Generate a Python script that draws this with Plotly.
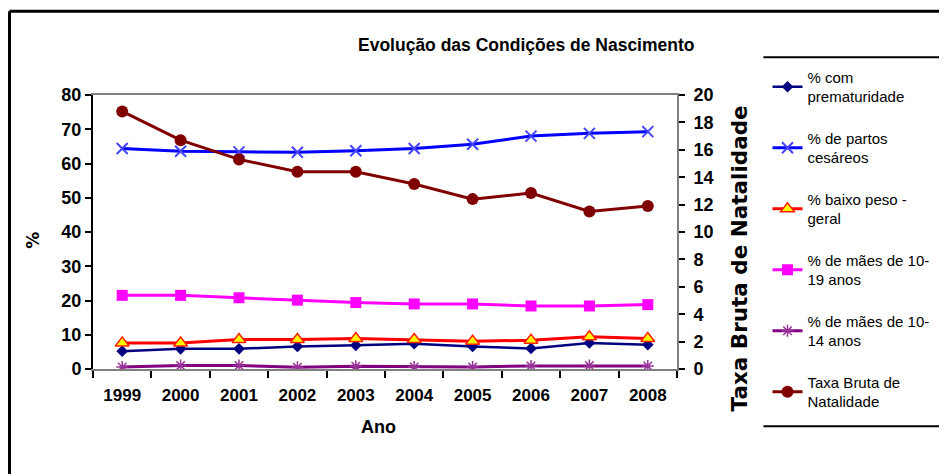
import plotly.graph_objects as go

anos = ["1999", "2000", "2001", "2002", "2003", "2004", "2005", "2006", "2007", "2008"]

prematuridade = [5.2, 5.9, 5.9, 6.6, 6.9, 7.4, 6.6, 6.0, 7.6, 7.1]
partos_cesareos = [64.4, 63.6, 63.4, 63.3, 63.7, 64.4, 65.6, 68.0, 68.8, 69.3]
baixo_peso = [7.6, 7.6, 8.6, 8.6, 8.9, 8.6, 8.1, 8.4, 9.4, 8.9]
maes_10_19 = [21.5, 21.5, 20.8, 20.1, 19.4, 19.0, 19.0, 18.4, 18.4, 18.8]
maes_10_14 = [0.6, 1.0, 1.0, 0.5, 0.8, 0.6, 0.6, 0.9, 1.0, 0.9]
taxa_natalidade = [18.8, 16.7, 15.3, 14.4, 14.4, 13.5, 12.4, 12.85, 11.5, 11.9]

sans = "Liberation Sans, Arial, sans-serif"

fig = go.Figure()

# series on the left (%) axis
fig.add_trace(go.Scatter(
    x=anos, y=prematuridade, name="% com<br>prematuridade", legendgroup="a",
    mode="lines+markers", line=dict(color="#000080", width=2.5),
    marker=dict(symbol="diamond", size=9, color="#000080")))
fig.add_trace(go.Scatter(
    x=anos, y=partos_cesareos, name="% de partos<br>cesáreos", legendgroup="b",
    mode="lines+markers", line=dict(color="#0000ff", width=3),
    marker=dict(symbol="x-thin-open", size=11, color="#4444ff",
                line=dict(color="#4444ff", width=2))))
fig.add_trace(go.Scatter(
    x=anos, y=baixo_peso, name="% baixo peso -<br>geral", legendgroup="c",
    mode="lines+markers", line=dict(color="#ff0000", width=3),
    marker=dict(symbol="triangle-up", size=12, color="#ffff00",
                line=dict(color="#ff2000", width=1.5))))
fig.add_trace(go.Scatter(
    x=anos, y=maes_10_19, name="% de mães de 10-<br>19 anos", legendgroup="d",
    mode="lines+markers", line=dict(color="#ff00ff", width=3),
    marker=dict(symbol="square", size=11, color="#ff00ff")))
fig.add_trace(go.Scatter(
    x=anos, y=maes_10_14, name="% de mães de 10-<br>14 anos", legendgroup="e",
    mode="lines+markers", line=dict(color="#800080", width=3),
    marker=dict(symbol="asterisk-open", size=10, color="#993399",
                line=dict(color="#993399", width=1.5))))
# birth rate on the right axis
fig.add_trace(go.Scatter(
    x=anos, y=taxa_natalidade, name="Taxa Bruta de<br>Natalidade", legendgroup="f",
    yaxis="y2", mode="lines+markers", line=dict(color="#800000", width=3),
    marker=dict(symbol="circle", size=12, color="#800000")))

# page body adds 8px margin, so the figure is 8px smaller than the window
fig.update_layout(
    width=939, height=466,
    margin=dict(l=85, r=267, t=87, b=104.5),
    paper_bgcolor="white", plot_bgcolor="white",
    font=dict(family=sans, color="black"),
    showlegend=True,
    legend=dict(x=1.155, y=1.125, xanchor="left", yanchor="top",
                font=dict(family=sans, size=15, color="black"),
                tracegroupgap=19, borderwidth=0, bgcolor="rgba(0,0,0,0)",
                maxheight=460),
    xaxis=dict(type="category", range=[-0.5, 9.5], showgrid=False,
               showline=True, linecolor="#808080", linewidth=2, mirror=True,
               ticks="outside", tickson="boundaries", ticklen=7,
               tickcolor="black", tickwidth=2, tickangle=0, automargin=False,
               ticklabelstandoff=10,
               tickfont=dict(family=sans, size=17, color="black", weight="bold")),
    yaxis=dict(range=[0, 80], dtick=10, showgrid=False, zeroline=False,
               showline=True, linecolor="black", linewidth=2, automargin=False,
               ticks="outside", ticklen=6, tickcolor="black", tickwidth=2,
               tickfont=dict(family=sans, size=18, color="black", weight="bold")),
    yaxis2=dict(range=[0, 20], dtick=2, overlaying="y", side="right",
                showgrid=False, zeroline=False, automargin=False,
                showline=True, linecolor="#808080", linewidth=2,
                ticks="outside", ticklen=6, tickcolor="black", tickwidth=2,
                ticklabelstandoff=5,
                tickfont=dict(family=sans, size=18, color="black", weight="bold")),
)

fig.add_annotation(text="Evolução das Condições de Nascimento", xref="paper", yref="paper",
                   x=0.741, y=1.182, xanchor="center", yanchor="middle", showarrow=False,
                   font=dict(family=sans, size=17.5, color="black", weight="bold"))
fig.add_annotation(text="%", xref="paper", yref="paper", x=-0.102, y=0.47,
                   xanchor="center", yanchor="middle", textangle=-90, showarrow=False,
                   font=dict(family="DejaVu Sans", size=17, color="black", weight="bold"))
fig.add_annotation(text="Taxa Bruta de Natalidade", xref="paper", yref="paper",
                   x=1.107, y=0.405, xanchor="center", yanchor="middle",
                   textangle=-90, showarrow=False,
                   font=dict(family="DejaVu Sans", size=21.5, color="black", weight="bold"))
fig.add_annotation(text="Ano", xref="paper", yref="paper", x=0.489, y=-0.213,
                   xanchor="center", yanchor="middle", showarrow=False,
                   font=dict(family=sans, size=18, color="black", weight="bold"))

# outer frame (left and top) and the legend's top/bottom rules
fig.add_shape(type="line", xref="paper", yref="paper", x0=-0.143, x1=-0.143,
              y0=-0.4, y1=1.306, line=dict(color="black", width=3))
fig.add_shape(type="line", xref="paper", yref="paper", x0=-0.143, x1=1.46,
              y0=1.306, y1=1.306, line=dict(color="black", width=3))
fig.add_shape(type="line", xref="paper", yref="paper", x0=1.148, x1=1.46,
              y0=1.138, y1=1.138, line=dict(color="black", width=2))
fig.add_shape(type="line", xref="paper", yref="paper", x0=1.148, x1=1.46,
              y0=-0.209, y1=-0.209, line=dict(color="black", width=2))

fig.write_html("out.html")
